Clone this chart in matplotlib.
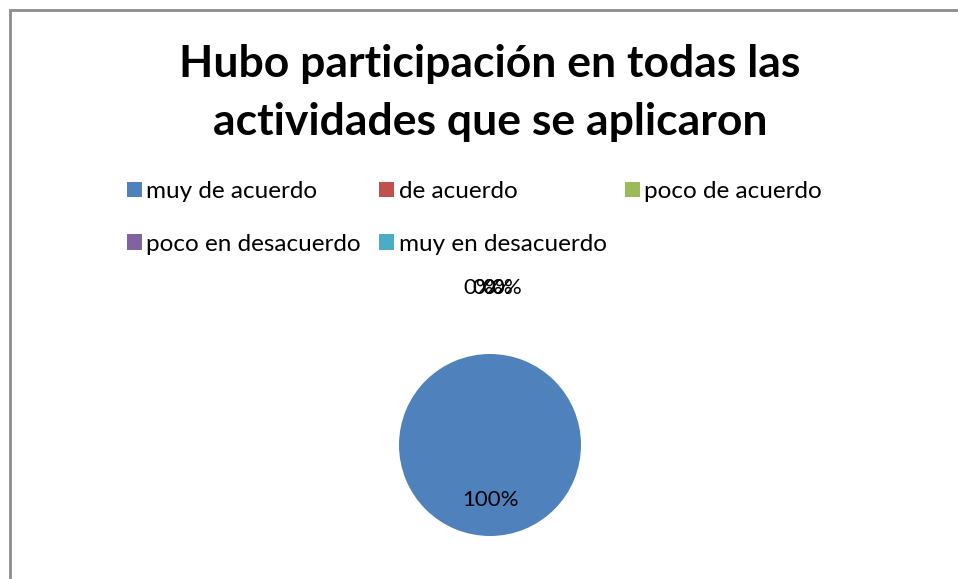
import matplotlib.pyplot as plt
from matplotlib.patches import Patch, Rectangle

plt.rcParams['font.family'] = ['Lato', 'DejaVu Sans']

# data
title = 'Hubo participación en todas las\nactividades que se aplicaron'
categories = ['muy de acuerdo', 'de acuerdo', 'poco de acuerdo',
              'poco en desacuerdo', 'muy en desacuerdo']
values = [100, 0, 0, 0, 0]
colors = ['#4F81BD', '#C0504D', '#9BBB59', '#8064A2', '#4BACC6']

fig = plt.figure(figsize=(9.58, 5.79), dpi=100)

# chart border (runs off the right and bottom edge like the original)
fig.patches.append(Rectangle((10 / 958, -0.05), 1.1, 1 - 10 / 579 + 0.05,
                             transform=fig.transFigure, fill=False,
                             edgecolor='#8c8c8c', linewidth=2))

fig.text(490 / 958, 1 - 93 / 579, title, ha='center', va='center',
         fontsize=32, fontweight='bold', linespacing=1.55)

# pie
r = 91
ax = fig.add_axes([(490 - r) / 958, 1 - (445 + r) / 579, 2 * r / 958, 2 * r / 579])
wedges, texts, autotexts = ax.pie(values, colors=colors, startangle=90,
                                  counterclock=False, autopct='%1.0f%%',
                                  pctdistance=0.6,
                                  textprops={'fontsize': 16})
ax.set_xlim(-1, 1)
ax.set_ylim(-1, 1)
ax.set_aspect('auto')

# zero slices are labelled on top of each other above the pie
for i, t in enumerate(autotexts):
    if values[i] == 0:
        t.set_position((-0.12 + 0.1 * (i - 1), 1.73))

# legend
order = [0, 3, 1, 4, 2]
handles = [Patch(facecolor=colors[i], label=categories[i]) for i in order]
fig.legend(handles=handles, ncol=3, loc='upper left',
           bbox_to_anchor=(127 / 958, 1 - 181 / 579), frameon=False,
           fontsize=17.5, handlelength=0.6, handleheight=0.6,
           handletextpad=0.2, columnspacing=0.75, labelspacing=1.3,
           borderpad=0, borderaxespad=0)

plt.savefig('out.png', dpi=100)
